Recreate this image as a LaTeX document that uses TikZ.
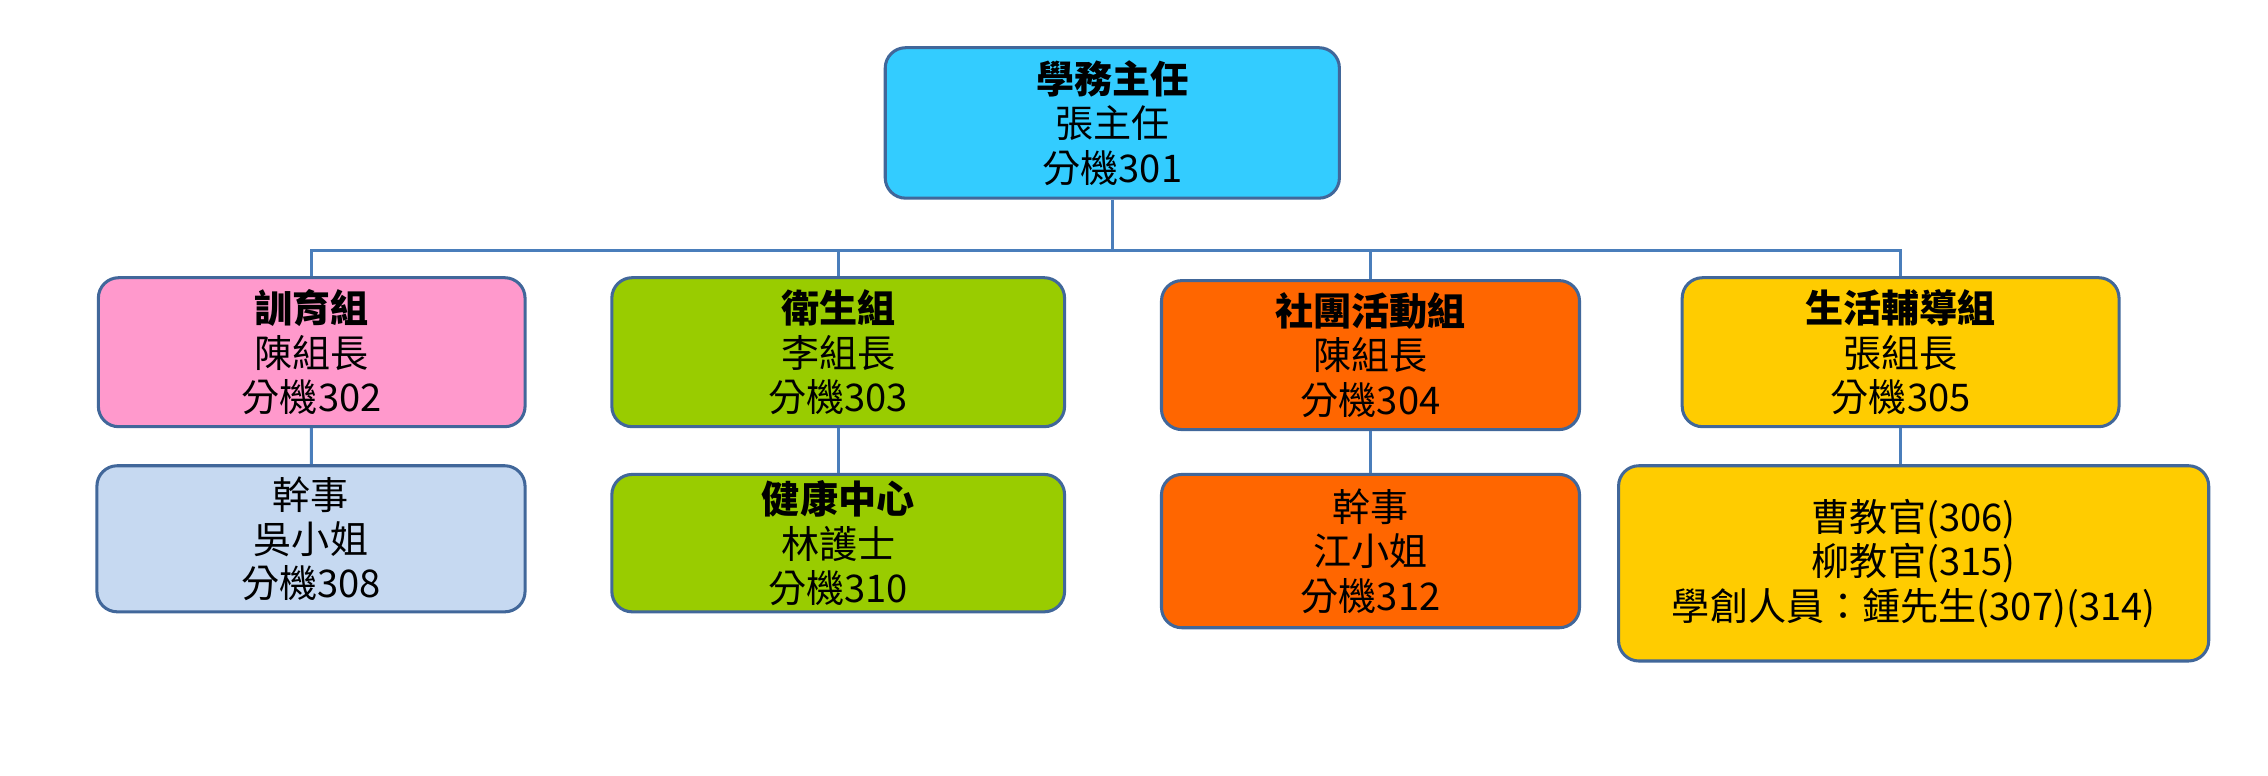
\documentclass[tikz,border=0pt]{standalone}
\usepackage{fontspec}
\setmainfont{Liberation Serif}
\newfontfamily\cjk{Noto Sans CJK TC}
\definecolor{boxline}{HTML}{41679A}
\definecolor{linkline}{HTML}{4A7EBB}
\definecolor{cTop}{HTML}{33CCFF}
\definecolor{cPink}{HTML}{FF99CC}
\definecolor{cGreen}{HTML}{99CC00}
\definecolor{cOrange}{HTML}{FF6600}
\definecolor{cYellow}{HTML}{FFCC00}
\definecolor{cBlue}{HTML}{C6D9F1}
\begin{document}
\begin{tikzpicture}[x=0.02cm,y=-0.02cm]
\tikzset{
  unit/.style={draw=boxline, line width=1.2pt, rounded corners=8pt, inner sep=0pt,
    align=center, font=\cjk\fontsize{15}{17.5}\selectfont},
  link/.style={draw=linkline, line width=1.2pt}
}
\useasboundingbox (0,0) rectangle (1568,536);

% boxes: corners given by their edges
\newcommand{\unitbox}[7]{%
  \node[unit, fill=#6, minimum width={(#3-#2)*0.02cm}, minimum height={(#5-#4)*0.02cm}]
    (#1) at ({(#2+#3)/2},{(#4+#5)/2}) {#7};}

\unitbox{head}{612}{926}{33}{137}{cTop}{\textbf{學務主任}\\張主任\\分機301}

\unitbox{discip}{68}{363}{192}{295}{cPink}{\textbf{訓育組}\\陳組長\\分機302}
\unitbox{health}{423}{736}{192}{295}{cGreen}{\textbf{衛生組}\\李組長\\分機303}
\unitbox{club}{803}{1092}{194}{297}{cOrange}{\textbf{社團活動組}\\陳組長\\分機304}
\unitbox{life}{1163}{1465}{192}{295}{cYellow}{\textbf{生活輔導組}\\張組長\\分機305}

\unitbox{clerkA}{67}{363}{322}{423}{cBlue}{幹事\\吳小姐\\分機308}
\unitbox{center}{423}{736}{328}{423}{cGreen}{\textbf{健康中心}\\林護士\\分機310}
\unitbox{clerkB}{803}{1092}{328}{434}{cOrange}{幹事\\江小姐\\分機312}
\unitbox{officers}{1119}{1527}{322}{457}{cYellow}{曹教官(306)\\柳教官(315)\\學創人員：鍾先生(307)(314)}

\coordinate (bus) at (769,173);
\draw[link] (head.south) -- (bus);
\foreach \n in {discip,health,club,life}
  \draw[link] (bus) -| (\n.north);
\draw[link] (discip) -- (clerkA);
\draw[link] (health) -- (center);
\draw[link] (club) -- (clerkB);
\draw[link] (life.south) -- (life.south |- officers.north);
\end{tikzpicture}
\end{document}
